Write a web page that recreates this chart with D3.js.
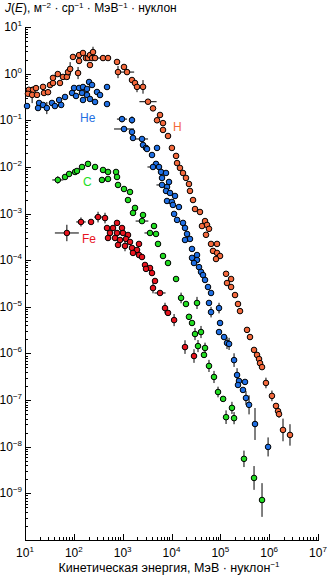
<!DOCTYPE html>
<html>
<head>
<meta charset="utf-8">
<script src="https://cdn.jsdelivr.net/npm/d3@7"></script>
<style>
  html, body { margin: 0; padding: 0; background: #fff; }
  svg { display: block; }
  text { font-family: "Liberation Sans", Arial, Helvetica, sans-serif; fill: #000; }
</style>
</head>
<body>
<svg id="chart" width="327" height="576"></svg>
<script>
// Decade exponents used for the labelled ticks
const xTickExps = [1, 2, 3, 4, 5, 6, 7];
const yTickExps = [1, 0, -1, -2, -3, -4, -5, -6, -7, -8, -9];

// Spectra: [kinetic energy MeV/nucleon, J(E), x-error factor, y-error factor]
// (an error factor f draws a bar from value/f to value*f; 0 means no bar)
const hydrogen = [
  [12, 0.45], [11.5, 0.37], [14.6, 0.45], [16.8, 0.49], [14, 0.35, 0, 1.5],
  [17.6, 0.35], [23.4, 0.52], [24.5, 0.385], [29.6, 0.40], [32.5, 0.57],
  [37.4, 0.63], [37.4, 0.81], [47, 0.98], [52, 0.63], [60, 0.85],
  [72, 0.85], [76, 1.08], [84, 1.26, 0, 1.4], [96, 2.28], [128, 2.5],
  [128, 1.87], [154, 2.77], [122, 1.03, 0, 1.35], [177, 2.16], [195, 2.16],
  [214, 2.5], [247, 2.9, 0, 1.3], [236, 2.16], [272, 2.16], [214, 1.53],
  [396, 2.16, 1.4, 0], [501, 2.16], [766, 1.78], [803, 1.08, 0, 1.35], [1065, 1.39],
  [1227, 1.08, 1.4, 0], [1552, 0.73], [1789, 0.63], [1966, 0.52, 0, 1.3], [2610, 0.52, 0, 1.4],
  [3303, 0.25, 1.5, 0], [4181, 0.18], [5817, 0.13], [5050, 0.10], [6701, 0.087],
  [6701, 0.062], [8483, 0.046], [1.02e4, 0.0255], [1.24e4, 0.0172], [1.30e4, 0.0121],
  [1.49e4, 9.5e-3], [1.72e4, 7.4e-3], [1.98e4, 5.8e-3], [2.28e4, 4.3e-3], [2.39e4, 3.05e-3],
  [2.76e4, 1.95e-3], [3.03e4, 1.25e-3], [3.83e4, 1.08e-3], [4.86e4, 6.9e-4], [4.21e4, 5.4e-4],
  [5.34e4, 5.7e-4], [5.86e4, 4.7e-4], [5.09e4, 3.5e-4], [6.45e4, 2.23e-4], [8.55e4, 2.23e-4],
  [7.08e4, 1.58e-4], [8.55e4, 1.43e-4], [9.86e4, 1.23e-4], [8.16e4, 1.06e-4], [1.31e5, 5.1e-5],
  [1.66e5, 3.95e-5], [1.37e5, 3.24e-5], [1.66e5, 2.66e-5], [2.0e5, 1.79e-5], [2.3e5, 1.15e-5],
  [2.53e5, 8.1e-6], [3.52e5, 3.2e-6], [4.05e5, 2.25e-6], [4.9e5, 1.19e-6], [5.64e5, 9.3e-7],
  [6.2e5, 7.6e-7], [6.5e5, 6.2e-7], [7.14e5, 5.1e-7], [8.6e5, 2.33e-7, 0, 1.3], [1.14e6, 1.23e-7, 0, 1.3],
  [1.38e6, 7.5e-8], [1.52e6, 5.8e-8], [1.59e6, 5.0e-8, 0, 1.2], [1.92e6, 2.29e-8, 0, 1.75], [2.67e6, 1.79e-8, 0, 1.7]
];

const helium = [
  [11, 0.202], [19.4, 0.235], [18.5, 0.183], [23.4, 0.213], [28, 0.183, 0, 1.35],
  [35.7, 0.235], [41, 0.202], [50, 0.272], [55, 0.213], [66, 0.316],
  [92, 0.385], [101, 0.493], [111, 0.332], [128, 0.493], [147, 0.385],
  [154, 0.517], [205, 0.662], [236, 0.571], [186, 0.469], [186, 0.348],
  [154, 0.272], [214, 0.286], [272, 0.247], [298, 0.404], [344, 0.348],
  [478, 0.517], [478, 0.223], [969, 0.106, 1.27, 1.17], [1552, 0.101, 0, 1.2], [1065, 0.065, 1.6, 0],
  [1552, 0.0561], [1628, 0.0417], [2489, 0.0397, 1.33, 0], [2610, 0.0295], [3006, 0.0255],
  [5050, 0.0255], [3989, 0.018], [3151, 0.0242], [4817, 0.0116], [4181, 0.00996, 1.3, 0],
  [5549, 0.00996], [6098, 7.79e-3], [7719, 7.41e-3], [6392, 5.79e-3], [8893, 4.75e-3],
  [6392, 4.10e-3, 1.3, 0], [8092, 3.71e-3], [7719, 3.05e-3], [9322, 2.76e-3], [1.18e4, 2.38e-3],
  [8092, 1.86e-3], [1.02e4, 1.77e-3], [1.07e4, 1.53e-3], [1.42e4, 1.38e-3], [1.13e4, 9.8e-4],
  [1.30e4, 7.3e-4], [1.72e4, 6.3e-4], [1.89e4, 4.9e-4], [2.08e4, 3.65e-4], [2.39e4, 2.85e-4],
  [1.89e4, 2.71e-4], [2.63e4, 1.74e-4], [3.33e4, 1.29e-4], [2.63e4, 1.12e-4], [3.33e4, 1.01e-4],
  [2.89e4, 8.7e-5], [3.66e4, 7.1e-5], [4.02e4, 5.6e-5], [4.42e4, 4.8e-5], [4.86e4, 3.76e-5],
  [5.59e4, 2.66e-5], [6.45e4, 1.98e-5], [5.86e4, 1.21e-5], [9.4e4, 9.4e-6, 0, 1.3], [6.45e4, 7.7e-6, 0, 1.3],
  [9.86e4, 4.5e-6], [9.4e4, 2.88e-6], [1.19e5, 2.25e-6], [1.37e5, 1.68e-6, 0, 1.35], [1.51e5, 1.6e-6, 0, 1.35],
  [1.91e5, 7.2e-7, 0, 1.4], [2.2e5, 3.45e-7, 0, 1.4], [2.41e5, 2.57e-7], [3.2e5, 2.45e-7], [2.3e5, 2.11e-7],
  [2.91e5, 1.65e-7], [3.35e5, 1.11e-7, 0, 1.4], [3.87e5, 7.9e-8, 0, 1.6], [5.13e5, 3.07e-8, 0, 2.2], [9.5e5, 9.9e-9, 0, 1.6]
];

const carbon = [
  [47, 5.25e-3, 1.3, 1.2], [66, 6.08e-3], [80, 7.06e-3], [106, 7.79e-3], [116, 8.18e-3],
  [147, 9.96e-3], [195, 0.0116], [272, 9.96e-3], [396, 8.59e-3], [501, 7.79e-3],
  [731, 7.79e-3], [766, 6.08e-3], [377, 5.25e-3], [501, 5.51e-3], [803, 4.10e-3],
  [1065, 3.36e-3], [1413, 2.90e-3], [1286, 1.95e-3], [1789, 1.32e-3], [1628, 1.03e-3],
  [2610, 9.3e-4], [2489, 6.9e-4, 1.35, 0], [4383, 5.4e-4], [3630, 3.83e-4, 1.3, 0], [4817, 3.65e-4],
  [5293, 2.23e-4], [6701, 1.23e-4], [8483, 8.7e-5], [1.24e4, 3.95e-5], [1.57e4, 1.55e-5, 0, 1.3],
  [1.98e4, 1.15e-5], [3.33e4, 1.21e-5, 0, 1.35], [2.28e4, 6.1e-6], [2.63e4, 4.5e-6], [3.03e4, 2.61e-6, 0, 1.35],
  [4.02e4, 2.88e-6, 0, 1.35], [3.49e4, 1.44e-6, 0, 1.35], [4.86e4, 1.31e-6, 0, 1.3], [4.63e4, 9.3e-7], [5.86e4, 5.4e-7, 0, 1.35],
  [7.42e4, 3.13e-7, 0, 1.35], [8.97e4, 1.49e-7, 0, 1.3], [1.14e5, 1.06e-7], [1.73e5, 6.8e-8, 0, 1.35], [1.31e5, 4.3e-8, 0, 1.4],
  [1.91e5, 4.1e-8, 0, 1.35], [3.05e5, 5.5e-9, 0, 1.5], [4.9e5, 2.14e-9, 0, 1.8], [7.14e5, 7.2e-10, 0, 2.3]
];

const iron = [
  [72, 3.83e-4, 1.76, 1.5], [140, 6.6e-4, 1.25, 1.25], [225, 6.6e-4], [313, 8.4e-4, 1.2, 1.3], [435, 8.0e-4, 0, 1.3],
  [478, 4.9e-4], [766, 6.3e-4], [634, 4.9e-4], [969, 4.9e-4], [550, 3.83e-4],
  [766, 3.83e-4], [1016, 3.83e-4], [1286, 3.47e-4], [501, 2.99e-4], [697, 2.99e-4],
  [883, 2.71e-4], [1170, 2.85e-4], [1413, 2.46e-4], [803, 2.12e-4], [1117, 2.02e-4, 0, 1.3],
  [1552, 1.83e-4], [1966, 1.66e-4], [1628, 1.43e-4], [2160, 2.23e-4], [2160, 1.29e-4],
  [2489, 1.17e-4], [2868, 7.9e-5], [3630, 6.8e-5], [3006, 6.5e-5], [3989, 5.3e-5],
  [4595, 3.58e-5], [4181, 2.53e-5, 0, 1.3], [5817, 1.98e-5, 1.3, 0], [7364, 9.4e-6, 0, 1.3], [8483, 7.4e-6],
  [1.13e4, 5.2e-6, 0, 1.35], [1.89e4, 1.37e-6, 0, 1.4], [2.89e4, 8.8e-7, 0, 1.4]
];

const series = [
  { name: "H",  data: hydrogen, color: "#f4693c", label: [173, 131] },
  { name: "He", data: helium,   color: "#1f6fe3", label: [80, 122] },
  { name: "C",  data: carbon,   color: "#22dd22", label: [83, 186] },
  { name: "Fe", data: iron,     color: "#e8141e", label: [82, 243] }
];

const svg = d3.select("#chart");
const x = d3.scaleLog().domain([1e1, 1e7]).range([25, 318]);
const y = d3.scaleLog().domain([1e-10, 1e1]).range([540, 27]);

const sup = n => (n < 0 ? "\u2212" + (-n) : String(n));

function minorTicks(lo, hi) {
  const out = [];
  for (let e = lo; e < hi; e++) for (let m = 2; m <= 9; m++) out.push(m * Math.pow(10, e));
  return out;
}

// x axis: inward ticks, minor ticks separately
const gx = svg.append("g").attr("transform", "translate(0,540)");
gx.call(d3.axisBottom(x).tickValues(minorTicks(1, 7)).tickSize(-3).tickSizeOuter(0).tickFormat(""));
gx.append("g").call(d3.axisBottom(x).tickValues(xTickExps.map(e => Math.pow(10, e)))
  .tickSize(-6).tickSizeOuter(0).tickPadding(6).tickFormat(""))
  .call(g => g.select(".domain").remove());
gx.selectAll("path, line").attr("stroke", "#000").attr("shape-rendering", "crispEdges");

const xLab = svg.append("g");
xTickExps.forEach(e => {
  const t = xLab.append("text").attr("x", x(Math.pow(10, e))).attr("y", 557)
    .attr("text-anchor", "middle").attr("font-size", 12);
  t.append("tspan").text("10");
  t.append("tspan").attr("dy", -5).attr("font-size", 8).text(sup(e));
});

// y axis
const gy = svg.append("g").attr("transform", "translate(25,0)");
gy.call(d3.axisLeft(y).tickValues(minorTicks(-10, 1)).tickSize(-3).tickSizeOuter(0).tickFormat(""));
gy.append("g").call(d3.axisLeft(y).tickValues(d3.range(-10, 2).map(e => Math.pow(10, e)))
  .tickSize(-6).tickSizeOuter(0).tickFormat(""))
  .call(g => g.select(".domain").remove());
gy.selectAll("path, line").attr("stroke", "#000").attr("shape-rendering", "crispEdges");

const yLab = svg.append("g");
yTickExps.forEach(e => {
  const t = yLab.append("text").attr("x", 22).attr("y", y(Math.pow(10, e)) + 4)
    .attr("text-anchor", "end").attr("font-size", 12);
  t.append("tspan").text("10");
  t.append("tspan").attr("dy", -5).attr("font-size", 8).text(sup(e));
});

// data: error bars under markers
series.forEach(s => {
  const g = svg.append("g");
  const pts = s.data.map(d => ({ E: d[0], J: d[1], ex: d[2] || 0, ey: d[3] || 0 }));
  g.selectAll("line.ey").data(pts.filter(d => d.ey > 1)).join("line")
    .attr("x1", d => x(d.E)).attr("x2", d => x(d.E))
    .attr("y1", d => y(d.J / d.ey)).attr("y2", d => y(d.J * d.ey))
    .attr("stroke", "#000").attr("stroke-width", 1);
  g.selectAll("line.ex").data(pts.filter(d => d.ex > 1)).join("line")
    .attr("x1", d => x(d.E / d.ex)).attr("x2", d => x(d.E * d.ex))
    .attr("y1", d => y(d.J)).attr("y2", d => y(d.J))
    .attr("stroke", "#000").attr("stroke-width", 1);
  g.selectAll("circle").data(pts).join("circle")
    .attr("cx", d => x(d.E)).attr("cy", d => y(d.J)).attr("r", 2.8)
    .attr("fill", s.color).attr("stroke", "#000").attr("stroke-width", 1);
  svg.append("text").attr("x", s.label[0]).attr("y", s.label[1])
    .attr("font-size", 12).style("fill", s.color).text(s.name);
});

// axis titles
const title = svg.append("text").attr("x", 5).attr("y", 12).attr("font-size", 12);
title.append("tspan").attr("font-style", "italic").text("J");
title.append("tspan").text("(");
title.append("tspan").attr("font-style", "italic").text("E");
title.append("tspan").text("), м");
title.append("tspan").attr("dy", -4).attr("font-size", 8).text("\u22122");
title.append("tspan").attr("dy", 4).text(" · ср");
title.append("tspan").attr("dy", -4).attr("font-size", 8).text("\u22121");
title.append("tspan").attr("dy", 4).text(" · МэВ");
title.append("tspan").attr("dy", -4).attr("font-size", 8).text("\u22121");
title.append("tspan").attr("dy", 4).text(" · нуклон");

const xt = svg.append("text").attr("x", 169).attr("y", 572).attr("text-anchor", "middle").attr("font-size", 12.5);
xt.append("tspan").text("Кинетическая энергия, МэВ · нуклон");
xt.append("tspan").attr("dy", -5).attr("font-size", 8).text("\u22121");
</script>
</body>
</html>
